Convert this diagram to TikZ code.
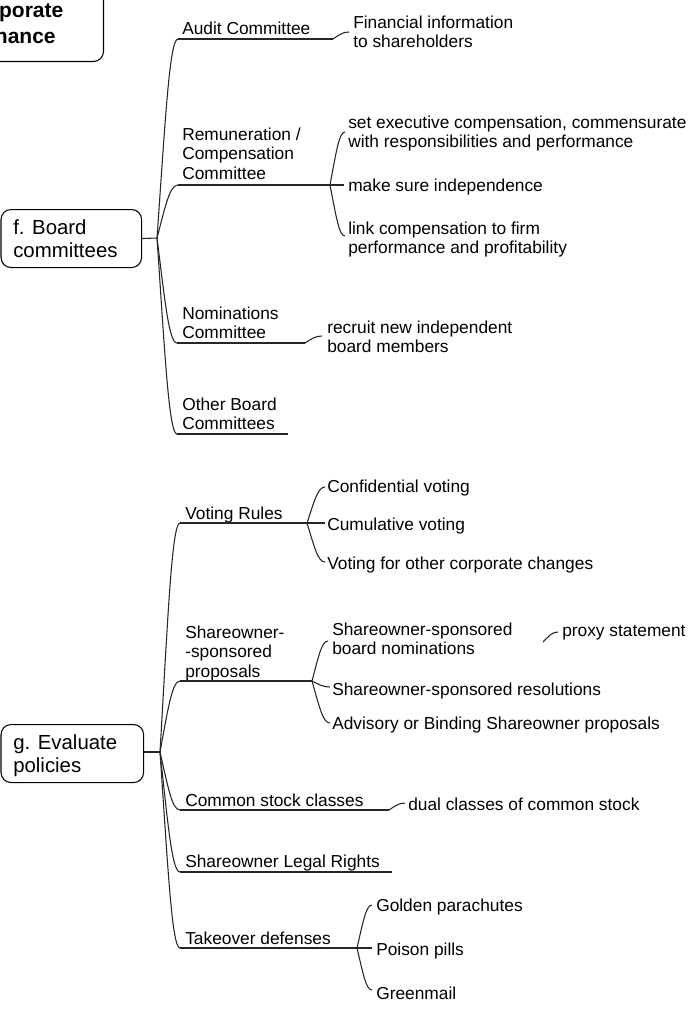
\documentclass[tikz,border=0pt]{standalone}
\usepackage{fontspec}
\setmainfont{Liberation Sans}
\usetikzlibrary{calc}

% stacked lines whose baseline is that of the first line
\newcommand\mlines[1]{\begin{tabular}[t]{@{}l@{}}#1\end{tabular}}

% curved connector: leaves its start steeply, arrives horizontally
\newcommand\curvelink[2]{%
  \draw[branchline] let \p1=(#1), \p2=(#2) in
    (\p1) .. controls ({\x1+0.4*(\x2-\x1)},{\y1+0.6*(\y2-\y1)})
    and ({\x2-0.4*(\x2-\x1)},{\y2}) .. (\p2);}

\begin{document}
\begin{tikzpicture}[x=0.75pt,y=-0.75pt,
  branchline/.style={draw=black!85,line width=0.8pt},
  topicbox/.style={draw=black,line width=0.8pt,rounded corners=7.5pt,fill=white,inner sep=0pt},
  txt/.style={inner sep=0pt,anchor=base west,font=\fontsize{13pt}{14.6pt}\selectfont},
  boxtxt/.style={inner sep=0pt,anchor=base west,font=\fontsize{15.3pt}{17.25pt}\selectfont},
  titletxt/.style={inner sep=0pt,anchor=base west,font=\bfseries\fontsize{15.75pt}{19.5pt}\selectfont}]
\clip (0,0) rectangle (694,1015);

% ---------------- central topic ----------------
\node[topicbox,minimum width=228pt,minimum height=76.5pt,anchor=south east] (gov) at (104,62) {};
\node[titletxt] (govtext) at (-66,17) {\mlines{\hspace*{21.5pt}Corporate\\Governance}};

% ---------------- f. Board committees ----------------
\node[topicbox,minimum width=105.4pt,minimum height=43.5pt,anchor=north west] (fbox) at (0.5,209) {};
\node[boxtxt] (ftext) at (13,234) {\mlines{f. Board\\committees}};
\coordinate (fr) at (157,238);
\draw[branchline] (fbox.east) -- (fr);

% Audit Committee
\node[txt] (audit) at (182,34.5) {Audit Committee};
\coordinate (audit-a) at (178,39);
\coordinate (audit-b) at (333,39);
\curvelink{fr}{audit-a}
\draw[branchline] (audit-a) -- (audit-b);
\node[txt] (fininfo) at (353,28) {\mlines{Financial information\\to shareholders}};
\coordinate (fininfo-a) at (349,32);
\curvelink{audit-b}{fininfo-a}

% Remuneration / Compensation Committee
\node[txt] (remun) at (182,140.5) {\mlines{Remuneration /\\Compensation\\Committee}};
\coordinate (remun-a) at (178,185);
\coordinate (remun-b) at (330,185);
\curvelink{fr}{remun-a}
\draw[branchline] (remun-a) -- (remun-b);
\node[txt] (setexec) at (348,128.3) {\mlines{set executive compensation, commensurate\\with responsibilities and performance}};
\coordinate (setexec-a) at (345,132);
\node[txt] (indep) at (348,191) {make sure independence};
\coordinate (indep-a) at (344,185);
\node[txt] (linkc) at (348,234) {\mlines{link compensation to firm\\performance and profitability}};
\coordinate (linkc-a) at (345,236);
\curvelink{remun-b}{setexec-a}
\curvelink{remun-b}{indep-a}
\curvelink{remun-b}{linkc-a}

% Nominations Committee
\node[txt] (nomin) at (182,319.3) {\mlines{Nominations\\Committee}};
\coordinate (nomin-a) at (177,343);
\coordinate (nomin-b) at (305,343);
\curvelink{fr}{nomin-a}
\draw[branchline] (nomin-a) -- (nomin-b);
\node[txt] (recruit) at (327,333.3) {\mlines{recruit new independent\\board members}};
\coordinate (recruit-a) at (322,336);
\curvelink{nomin-b}{recruit-a}

% Other Board Committees
\node[txt] (other) at (182,410) {\mlines{Other Board\\Committees}};
\coordinate (other-a) at (177,434);
\coordinate (other-b) at (288,434);
\curvelink{fr}{other-a}
\draw[branchline] (other-a) -- (other-b);

% ---------------- g. Evaluate policies ----------------
\node[topicbox,minimum width=106.9pt,minimum height=43.5pt,anchor=north west] (gbox) at (0.5,724) {};
\node[boxtxt] (gtext) at (13,749) {\mlines{g. Evaluate\\policies}};
\coordinate (gr) at (160,752);
\draw[branchline] (gbox.east |- gr) -- (gr);

% Voting Rules
\node[txt] (voting) at (185,519.3) {Voting Rules};
\coordinate (voting-a) at (180,523);
\coordinate (voting-b) at (307,523);
\curvelink{gr}{voting-a}
\draw[branchline] (voting-a) -- (voting-b);
\node[txt] (confid) at (327,492.3) {Confidential voting};
\coordinate (confid-a) at (325,487);
\node[txt] (cumul) at (327,530.7) {Cumulative voting};
\coordinate (cumul-a) at (325,523);
\node[txt] (votother) at (327,569) {Voting for other corporate changes};
\coordinate (votother-a) at (325,562);
\curvelink{voting-b}{confid-a}
\curvelink{voting-b}{cumul-a}
\curvelink{voting-b}{votother-a}

% Shareowner-sponsored proposals
\node[txt] (sprop) at (185,638.3) {\mlines{Shareowner-\\-sponsored\\proposals}};
\coordinate (sprop-a) at (180,681);
\coordinate (sprop-b) at (312,681);
\curvelink{gr}{sprop-a}
\draw[branchline] (sprop-a) -- (sprop-b);
\node[txt] (snomin) at (332,635) {\mlines{Shareowner-sponsored\\board nominations}};
\coordinate (snomin-a) at (328,641);
\coordinate (snomin-b) at (543,642);
\node[txt] (sresol) at (332,695) {Shareowner-sponsored resolutions};
\coordinate (sresol-a) at (330,687);
\node[txt] (advis) at (332,729) {Advisory or Binding Shareowner proposals};
\coordinate (advis-a) at (330,723);
\curvelink{sprop-b}{snomin-a}
\curvelink{sprop-b}{sresol-a}
\curvelink{sprop-b}{advis-a}
\node[txt] (proxy) at (562,636.7) {proxy statement};
\coordinate (proxy-a) at (558,632);
\curvelink{snomin-b}{proxy-a}

% Common stock classes
\node[txt] (common) at (185,806) {Common stock classes};
\coordinate (common-a) at (180,810);
\coordinate (common-b) at (389,810);
\curvelink{gr}{common-a}
\draw[branchline] (common-a) -- (common-b);
\node[txt] (dual) at (408,810) {dual classes of common stock};
\coordinate (dual-a) at (405,803);
\curvelink{common-b}{dual-a}

% Shareowner Legal Rights
\node[txt] (legal) at (185,867) {Shareowner Legal Rights};
\coordinate (legal-a) at (180,872);
\coordinate (legal-b) at (392,872);
\curvelink{gr}{legal-a}
\draw[branchline] (legal-a) -- (legal-b);

% Takeover defenses
\node[txt] (takeover) at (185,944) {Takeover defenses};
\coordinate (takeover-a) at (180,948);
\coordinate (takeover-b) at (357,948);
\curvelink{gr}{takeover-a}
\draw[branchline] (takeover-a) -- (takeover-b);
\node[txt] (golden) at (376,911.7) {Golden parachutes};
\coordinate (golden-a) at (372,905);
\node[txt] (poison) at (376,955) {Poison pills};
\coordinate (poison-a) at (372,948);
\node[txt] (green) at (376,999) {Greenmail};
\coordinate (green-a) at (372,990);
\curvelink{takeover-b}{golden-a}
\curvelink{takeover-b}{poison-a}
\curvelink{takeover-b}{green-a}
\end{tikzpicture}
\end{document}
